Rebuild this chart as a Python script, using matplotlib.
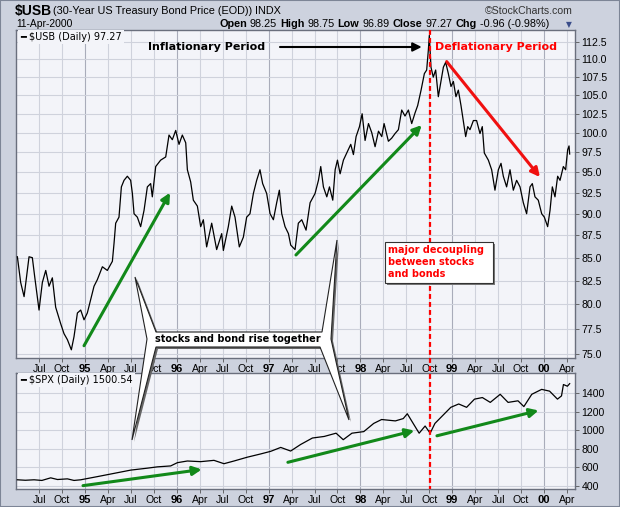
import numpy as np
import matplotlib
matplotlib.use("Agg")
import matplotlib.pyplot as plt
import matplotlib.transforms as mtransforms
from matplotlib.patches import Polygon, Rectangle
from matplotlib.lines import Line2D
from matplotlib.ticker import FixedLocator, FixedFormatter, NullLocator

# $USB (30-year bond) close: decimal year / price
usb_t = [1994.263, 1994.299, 1994.336, 1994.390, 1994.426, 1994.452, 1994.499, 1994.535,
         1994.572, 1994.608, 1994.644, 1994.680, 1994.735, 1994.771, 1994.808, 1994.851,
         1994.880, 1994.917, 1994.953, 1994.989, 1995.025, 1995.062, 1995.098, 1995.134,
         1995.189, 1995.243, 1995.298, 1995.316, 1995.334, 1995.370, 1995.396, 1995.425,
         1995.461, 1995.497, 1995.516, 1995.534, 1995.570, 1995.606, 1995.643, 1995.679,
         1995.715, 1995.733, 1995.770, 1995.824, 1995.879, 1995.915, 1995.951, 1995.988,
         1996.024, 1996.060, 1996.097, 1996.115, 1996.151, 1996.180, 1996.224, 1996.260,
         1996.289, 1996.325, 1996.380, 1996.434, 1996.489, 1996.507, 1996.561, 1996.598,
         1996.634, 1996.681, 1996.725, 1996.761, 1996.797, 1996.834, 1996.870, 1996.906,
         1996.935, 1996.979, 1997.016, 1997.052, 1997.088, 1997.117, 1997.143, 1997.179,
         1997.216, 1997.241, 1997.288, 1997.324, 1997.361, 1997.408, 1997.452, 1997.506,
         1997.543, 1997.568, 1997.597, 1997.634, 1997.663, 1997.699, 1997.725, 1997.750,
         1997.779, 1997.815, 1997.851, 1997.895, 1997.924, 1997.953, 1997.990, 1998.019,
         1998.051, 1998.088, 1998.124, 1998.160, 1998.197, 1998.233, 1998.258, 1998.305,
         1998.341, 1998.378, 1998.414, 1998.450, 1998.486, 1998.523, 1998.559, 1998.595,
         1998.624, 1998.661, 1998.697, 1998.722, 1998.740, 1998.751, 1998.769, 1998.794,
         1998.820, 1998.849, 1998.878, 1998.904, 1998.929, 1998.958, 1998.987, 1999.013,
         1999.041, 1999.067, 1999.096, 1999.121, 1999.147, 1999.169, 1999.194, 1999.231,
         1999.266, 1999.303, 1999.328, 1999.350, 1999.394, 1999.430, 1999.466, 1999.503,
         1999.532, 1999.557, 1999.593, 1999.630, 1999.666, 1999.702, 1999.739, 1999.775,
         1999.811, 1999.848, 1999.873, 1999.902, 1999.938, 1999.975, 2000.004, 2000.040,
         2000.066, 2000.091, 2000.120, 2000.149, 2000.175, 2000.211, 2000.236, 2000.258,
         2000.273, 2000.280]
usb_v = [85.1, 82.3, 80.8, 85.1, 85.0, 82.9, 79.4, 82.3,
         83.6, 81.9, 82.8, 79.7, 78.0, 77.0, 76.4, 75.4,
         76.7, 79.1, 79.4, 78.4, 79.1, 80.5, 81.9, 82.6,
         84.0, 83.6, 84.6, 86.6, 88.9, 89.6, 93.2, 94.0,
         94.5, 94.0, 92.4, 90.0, 89.6, 88.5, 90.4, 93.2,
         93.6, 92.0, 95.7, 96.5, 96.9, 99.7, 99.1, 100.3,
         98.5, 99.7, 98.7, 95.3, 93.8, 91.6, 90.9, 88.5,
         89.3, 86.2, 88.9, 85.9, 87.7, 85.8, 88.5, 90.9,
         89.6, 86.2, 87.3, 89.6, 90.0, 92.4, 94.0, 95.3,
         93.6, 92.4, 90.0, 89.3, 91.3, 92.8, 90.0, 88.5,
         87.7, 86.4, 85.9, 88.9, 89.3, 88.1, 91.3, 92.4,
         94.0, 95.7, 93.2, 92.0, 93.2, 91.6, 95.3, 96.5,
         94.8, 96.5, 97.4, 98.5, 97.2, 99.5, 100.8, 102.5,
         99.0, 101.2, 100.0, 98.2, 100.2, 99.5, 101.2, 98.9,
         99.3, 99.9, 100.4, 103.0, 102.2, 103.0, 101.2, 102.6,
         103.6, 105.7, 108.0, 108.5, 111.3, 113.5, 108.9, 107.5,
         108.5, 104.8, 106.9, 108.9, 109.6, 108.0, 106.2, 106.9,
         104.8, 105.7, 103.6, 101.6, 99.5, 100.8, 100.4, 101.6,
         101.6, 99.9, 100.8, 97.4, 96.5, 95.3, 92.8, 95.3,
         96.1, 94.5, 93.2, 95.3, 92.8, 94.0, 93.2, 91.3,
         90.0, 93.2, 93.6, 92.0, 91.6, 90.0, 89.6, 88.5,
         90.4, 93.2, 92.0, 94.5, 94.0, 95.7, 95.3, 97.8,
         98.3, 97.27]

# $SPX close
spx_t = [1994.263, 1994.350, 1994.445, 1994.530, 1994.626, 1994.700, 1994.808, 1994.880,
         1994.953, 1995.134, 1995.316, 1995.497, 1995.679, 1995.788, 1995.933, 1996.006,
         1996.115, 1996.260, 1996.405, 1996.514, 1996.623, 1996.768, 1996.914, 1997.023,
         1997.132, 1997.240, 1997.348, 1997.477, 1997.606, 1997.735, 1997.813, 1997.908,
         1998.037, 1998.145, 1998.231, 1998.381, 1998.467, 1998.511, 1998.575, 1998.640,
         1998.705, 1998.760, 1998.812, 1998.899, 1998.985, 1999.071, 1999.157, 1999.243,
         1999.329, 1999.415, 1999.523, 1999.609, 1999.717, 1999.781, 1999.867, 1999.975,
         2000.061, 2000.147, 2000.191, 2000.212, 2000.255, 2000.280]
spx_v = [467, 462, 467, 460, 488, 470, 477, 460,
         467, 501, 536, 571, 592, 606, 616, 651,
         669, 662, 676, 640, 669, 710, 745, 773,
         815, 776, 846, 916, 933, 968, 898, 968,
         985, 1073, 1115, 1100, 1125, 1177, 1073, 968,
         1045, 968, 1073, 1160, 1246, 1282, 1246, 1334,
         1351, 1299, 1386, 1299, 1316, 1254, 1386, 1439,
         1420, 1334, 1369, 1491, 1473, 1500.5]

usb_ticks = [75.0, 77.5, 80.0, 82.5, 85.0, 87.5, 90.0, 92.5, 95.0, 97.5,
             100.0, 102.5, 105.0, 107.5, 110.0, 112.5]
spx_ticks = [400, 600, 800, 1000, 1200, 1400]
quarters = [1994.5 + 0.25 * i for i in range(24)]
quarter_labels = ['Jul', 'Oct', '95', 'Apr', 'Jul', 'Oct', '96', 'Apr', 'Jul', 'Oct',
                  '97', 'Apr', 'Jul', 'Oct', '98', 'Apr', 'Jul', 'Oct', '99', 'Apr',
                  'Jul', 'Oct', '00', 'Apr']
split_date = 1998.758

W, H = 620, 507
def fx(px): return px / W
def fy(py): return 1 - py / H

bg = '#cdd2de'
green = '#12891a'
fig = plt.figure(figsize=(6.2, 5.07), dpi=100, facecolor=bg)
ax1 = fig.add_axes([fx(16), fy(358), (575 - 16) / W, (358 - 30) / H])
ax2 = fig.add_axes([fx(16), fy(489), (575 - 16) / W, (489 - 373) / H])

for ax in (ax1, ax2):
    ax.set_facecolor('#f3f4f9')
    ax.set_xlim(1994.248, 2000.338)
    for q, lab in zip(quarters, quarter_labels):
        yr = lab.isdigit()
        ax.axvline(q, color='#a9acba' if yr else '#cfd2dc', lw=0.8, zorder=0)
    ax.xaxis.set_major_locator(FixedLocator(quarters))
    ax.xaxis.set_major_formatter(FixedFormatter(quarter_labels))
    ax.xaxis.set_minor_locator(NullLocator())
    ax.yaxis.tick_right()
    ax.tick_params(axis='both', length=3, width=0.6, color='#555', pad=1.5,
                   labelsize=7.6)
    for lab in ax.get_xticklabels():
        lab.set_family('Liberation Sans')
        if lab.get_text().isdigit():
            lab.set_fontweight('bold')
            lab.set_fontsize(8)
    for lab in ax.get_yticklabels():
        lab.set_family('Liberation Sans')
    for s in ax.spines.values():
        s.set_color('#6a6f7d')
        s.set_linewidth(1)

ax1.set_yscale('log')
ax1.set_ylim(74.6, 114.3)
ax1.yaxis.set_major_locator(FixedLocator(usb_ticks))
ax1.yaxis.set_major_formatter(FixedFormatter(['%.1f' % v for v in usb_ticks]))
ax1.yaxis.set_minor_locator(NullLocator())
for v in usb_ticks:
    ax1.axhline(v, color='#cfd2dc', lw=0.8, zorder=0)
ax1.plot(usb_t, usb_v, color='black', lw=0.9, zorder=3)

ax2.set_ylim(368, 1615)
ax2.yaxis.set_major_locator(FixedLocator(spx_ticks))
for v in spx_ticks:
    ax2.axhline(v, color='#cfd2dc', lw=0.8, zorder=0)
ax2.plot(spx_t, spx_v, color='black', lw=0.9, zorder=3)

ax1.text(0.007, 0.995, '━ $USB (Daily) 97.27', transform=ax1.transAxes, va='top',
         ha='left', fontsize=7, family='DejaVu Sans', zorder=5,
         bbox=dict(fc='#f3f4f9', ec='none', pad=1.5))
ax2.text(0.007, 0.985, '━ $SPX (Daily) 1500.54', transform=ax2.transAxes, va='top',
         ha='left', fontsize=7, family='DejaVu Sans', zorder=5,
         bbox=dict(fc='#f3f4f9', ec='none', pad=1.5))

# arrows and period labels
def arrow(ax, p0, p1, color, lw=2.2):
    ax.annotate('', xy=p1, xytext=p0, zorder=6,
                arrowprops=dict(arrowstyle='-|>', color=color, lw=lw,
                                mutation_scale=13, shrinkA=0, shrinkB=0))

arrow(ax1, (1994.989, 75.8), (1995.926, 92.5), green)
arrow(ax1, (1997.298, 85.3), (1998.668, 101.0), green)
arrow(ax1, (1998.940, 109.7), (1999.956, 94.4), '#f01010')
arrow(ax1, (1997.124, 111.8), (1998.668, 111.8), 'black', lw=1.5)
arrow(ax2, (1994.978, 404), (1996.271, 578), green)
arrow(ax2, (1997.210, 655), (1998.588, 996), green)
arrow(ax2, (1998.834, 940), (1999.941, 1212), green)

ax1.text(1996.32, 111.8, 'Inflationary Period', ha='center', va='center',
         fontsize=8, weight='bold', family='DejaVu Sans', zorder=6)
ax1.text(1998.81, 111.8, 'Deflationary Period', ha='left', va='center',
         fontsize=8, weight='bold', family='DejaVu Sans', color='#ff0000', zorder=6)

# red dashed split line through both panels
blend = mtransforms.blended_transform_factory(ax1.transData, fig.transFigure)
fig.add_artist(Line2D([split_date, split_date], [fy(30), fy(489)], transform=blend,
                      color='#ff0000', lw=1.6, ls=(0, (2.2, 1.4)), zorder=8))

# "major decoupling" box
fig.add_artist(Rectangle((fx(387), fy(285)), 108 / W, 41 / H, transform=fig.transFigure,
                         fc='#777', ec='none', zorder=9))
fig.add_artist(Rectangle((fx(385), fy(283)), 108 / W, 41 / H, transform=fig.transFigure,
                         fc='white', ec='#333', lw=0.8, zorder=10))
fig.text(fx(388), fy(262), 'major decoupling\nbetween stocks\nand bonds', ha='left',
         va='center', fontsize=7, weight='bold', family='DejaVu Sans', color='#ff0000',
         linespacing=1.25, zorder=11)

# "stocks and bond rise together" callout with four spikes
pts = [(156, 332), (322, 332), (337, 240), (331, 339), (349, 420), (320, 347),
       (156, 347), (132, 440), (147, 339), (135, 277)]
shadow = [(fx(x + 2), fy(y + 2)) for x, y in pts]
main = [(fx(x), fy(y)) for x, y in pts]
fig.add_artist(Polygon(shadow, closed=True, transform=fig.transFigure, fc='#666',
                       ec='none', zorder=12))
fig.add_artist(Polygon(main, closed=True, transform=fig.transFigure, fc='white',
                       ec='#222', lw=0.8, zorder=13))
fig.text(fx(238), fy(339.5), 'stocks and bond rise together', ha='center', va='center',
         fontsize=7, weight='bold', family='DejaVu Sans', zorder=14)

# header
fig.canvas.draw()
rend = fig.canvas.get_renderer()

def row(pieces, x, y, size):
    for s, w in pieces:
        t = fig.text(fx(x), fy(y), s, fontsize=size, weight=w, family='Liberation Sans',
                     va='center', ha='left')
        x += t.get_window_extent(rend).width + 3

row([('$USB', 'bold')], 15, 10.5, 10)
row([('(30-Year US Treasury Bond Price (EOD))', 'normal'), ('INDX', 'normal')],
    53, 11, 7.8)
fig.text(fx(573), fy(11), '©StockCharts.com', ha='right', va='center', fontsize=7.6,
         family='Liberation Sans', color='#333')
fig.text(fx(16), fy(24), '11-Apr-2000', ha='left', va='center', fontsize=7.4,
         family='Liberation Sans')
row([('Open', 'bold'), ('98.25', 'normal'), ('High', 'bold'), ('98.75', 'normal'),
     ('Low', 'bold'), ('96.89', 'normal'), ('Close', 'bold'), ('97.27', 'normal'),
     ('Chg', 'bold'), ('-0.96 (-0.98%)', 'normal')], 219, 24, 7.8)
fig.text(fx(569), fy(24.5), '▼', ha='center', va='center', fontsize=5.5,
         color='#3a4d8a', family='DejaVu Sans')

fig.add_artist(Rectangle((0, 0), 1, 1, transform=fig.transFigure, fill=False,
                         ec='#7d8596', lw=1.5))

fig.savefig('out.png', dpi=100, facecolor=bg)
